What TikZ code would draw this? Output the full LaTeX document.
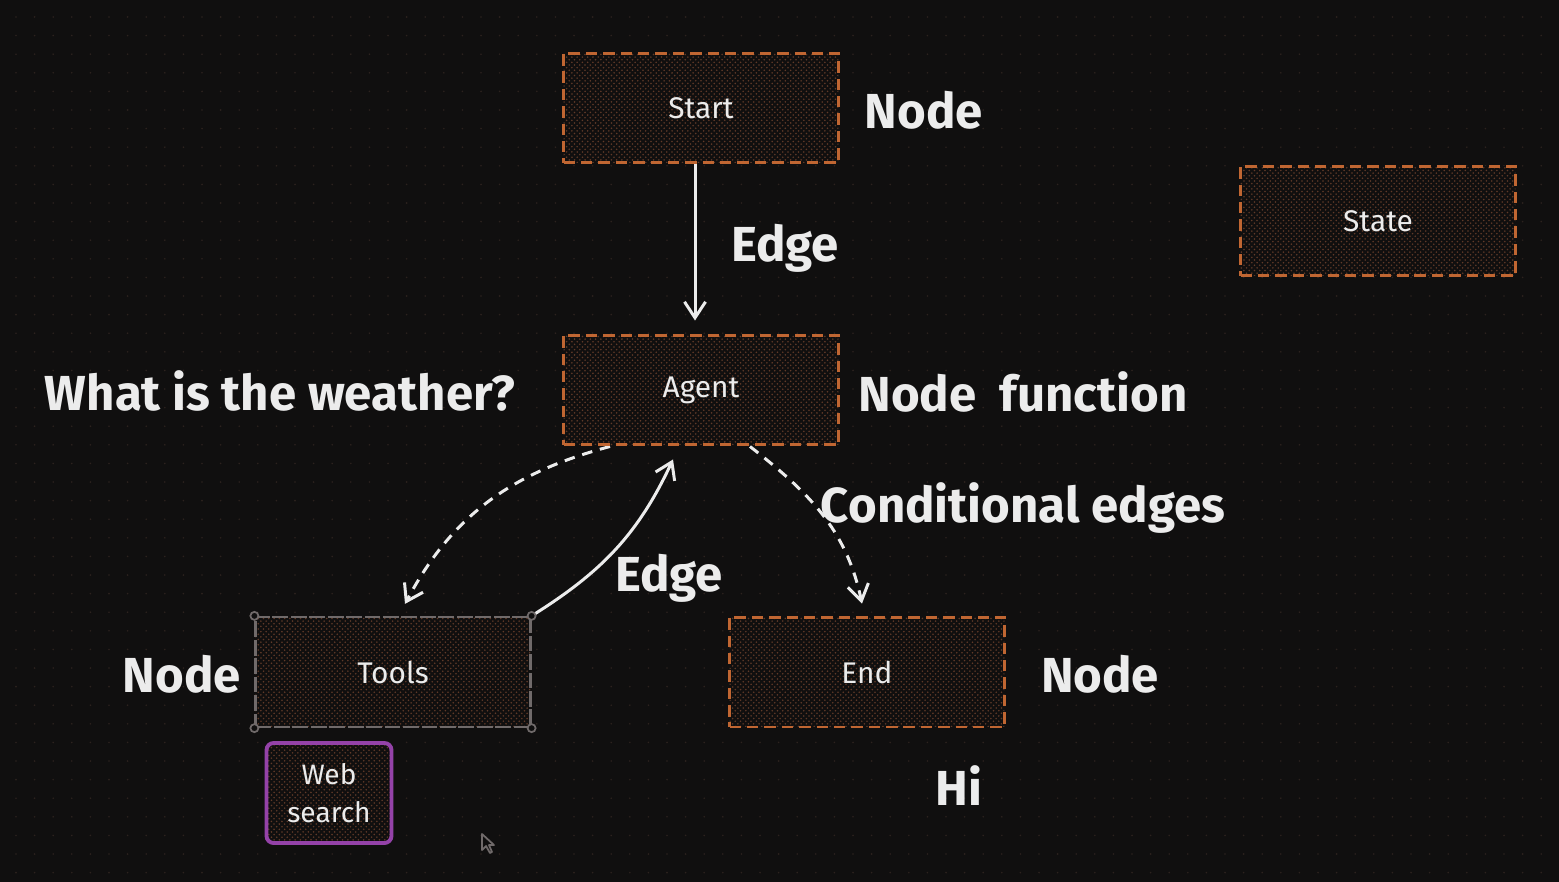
\documentclass[tikz,border=0pt]{standalone}
\usepackage{fontspec}
\setmainfont{Fira Sans}
\usetikzlibrary{arrows.meta,patterns}
\definecolor{bgcol}{RGB}{16,15,15}
\definecolor{gridcol}{RGB}{44,34,30}
\definecolor{boxorange}{RGB}{192,102,50}
\definecolor{hatchcol}{RGB}{96,58,40}
\definecolor{toolgray}{RGB}{112,106,106}
\definecolor{webpurple}{RGB}{148,66,168}
\definecolor{inkwhite}{RGB}{236,236,236}
\pgfdeclarelayer{bglayer}
\pgfdeclarelayer{edgelayer}
\pgfdeclarelayer{nodelayer}
\pgfsetlayers{bglayer,edgelayer,nodelayer,main}
\tikzstyle{box}=[rectangle, minimum width=5.5cm, minimum height=2.2cm, draw=boxorange, line width=1.7pt, dash pattern=on 6.5pt off 3.4pt, preaction={fill=bgcol}, pattern=crosshatch dots, pattern color=hatchcol, text=inkwhite, font=\fontsize{17}{19}\selectfont]
\tikzstyle{label}=[text=inkwhite, font=\fontsize{28}{31}\selectfont\bfseries]
\tikzstyle{edge}=[draw=inkwhite, line width=1.7pt, -{Straight Barb[length=3.2mm,width=4.2mm,line width=1.7pt]}]
\tikzstyle{condedge}=[edge, dash pattern=on 6pt off 4.5pt]

\begin{document}
\begin{tikzpicture}[x=0.02cm,y=-0.02cm]
				\useasboundingbox (0,0) rectangle (1559,882);
				\begin{pgfonlayer}{bglayer}
					\fill[bgcol] (0,0) rectangle (1559,882);
					% faint dot grid
					\foreach \i in {0,...,82}
						\foreach \j in {0,...,46}
							\fill[gridcol] (16+18.6*\i,17+18.6*\j) circle (0.9);
				\end{pgfonlayer}
				\begin{pgfonlayer}{nodelayer}
					\node [style=box] (start) at (701, 108) {Start};
					\node [style=box] (state) at (1378, 221) {State};
					\node [style=box] (agent) at (701, 390) {Agent};
					\node [style=box, draw=toolgray, line width=1.3pt, dash pattern=on 9pt off 1.5pt] (tools) at (393, 672) {Tools};
					\node [style=box] (end) at (867, 672) {End};
					\node [style=box, minimum width=2.5cm, minimum height=2.0cm, draw=webpurple, solid, line width=2.2pt, rounded corners=4pt, align=center, font=\fontsize{16}{22}\selectfont] (web) at (329, 793) {Web\\search};
					% selection handles
					\foreach \c in {north west, north east, south west, south east}
						\draw [toolgray, line width=1pt, fill=bgcol] (tools.\c) circle (4);
					\node [style=label] (l1) at (924, 110) {Node};
					\node [style=label] (l2) at (785, 248) {Edge};
					\node [style=label] (l3) at (280, 391) {What is the weather?};
					\node [style=label] (l4) at (1023, 392) {Node\ \ function};
					\node [style=label] (l5) at (1023, 508) {Conditional edges};
					\node [style=label] (l6) at (669, 578) {Edge};
					\node [style=label] (l7) at (182, 674) {Node};
					\node [style=label] (l8) at (1100, 674) {Node};
					\node [style=label] (l9) at (959, 786) {Hi};
				\end{pgfonlayer}
				\begin{pgfonlayer}{edgelayer}
					\draw [style=edge] ([xshift=-0.12cm]start.south) to ([xshift=-0.12cm,yshift=0.26cm]agent.north);
					\draw [style=condedge] ([xshift=-1.82cm]agent.south) to [out=195, in=62] ([xshift=0.24cm,yshift=0.24cm]tools.north);
					\draw [style=edge] (tools.north east) to [out=32, in=245] ([xshift=-0.56cm,yshift=-0.26cm]agent.south);
					\draw [style=condedge] ([xshift=0.98cm]agent.south) to [out=-38, in=102] ([xshift=-0.1cm,yshift=0.24cm]end.north);
				\end{pgfonlayer}
				% cursor
				\draw [toolgray, line width=1pt, fill=bgcol, line join=round] (482,834) -- (482,850) -- (486,846) -- (490,853) -- (492,852) -- (489,845) -- (494,845) -- cycle;
			\end{tikzpicture}
\end{document}
